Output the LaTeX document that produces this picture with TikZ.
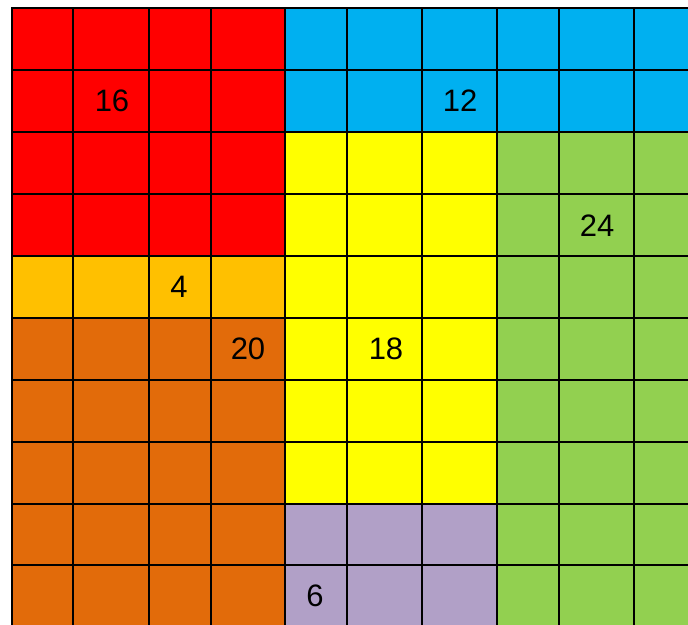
\documentclass[tikz,border=0pt]{standalone}
\usepackage{fontspec}
\setmainfont{Liberation Sans}
\definecolor{cellred}{HTML}{FF0000}
\definecolor{cellblue}{HTML}{00B0F0}
\definecolor{cellyellow}{HTML}{FFFF00}
\definecolor{cellgreen}{HTML}{92D050}
\definecolor{cellamber}{HTML}{FFC000}
\definecolor{cellorange}{HTML}{E26B0A}
\definecolor{cellpurple}{HTML}{B1A0C7}
\begin{document}
\begin{tikzpicture}[x=1pt,y=-1pt,font=\fontsize{31}{31}\selectfont]
  \useasboundingbox (0,0) rectangle (688,624);
  \clip (0,0) rectangle (688,624);
  % coloured blocks
  \fill[cellred] (12,8) rectangle (285,256);
  \fill[cellblue] (285,8) rectangle (700,132);
  \fill[cellyellow] (285,132) rectangle (496.7,504);
  \fill[cellgreen] (496.7,132) rectangle (700,630);
  \fill[cellamber] (12,256) rectangle (285,318);
  \fill[cellorange] (12,318) rectangle (285,630);
  \fill[cellpurple] (285,504) rectangle (496.7,630);
  % grid
  \foreach \x in {12,72.7,149,210.7,285,347,422,496.7,558.7,634} \draw[line width=2pt,line cap=rect] (\x,8)--(\x,630);
  \foreach \y in {8,70,132,194,256,318,380,442,504,565} \draw[line width=2pt,line cap=rect] (12,\y)--(700,\y);
  % counts
  \node (n16) at (112,101) {16};
  \node (n12) at (460,101) {12};
  \node (n24) at (597,226) {24};
  \node (n4) at (179,287) {4};
  \node (n20) at (248,349) {20};
  \node (n18) at (386,349) {18};
  \node (n6) at (315,596) {6};
\end{tikzpicture}
\end{document}
